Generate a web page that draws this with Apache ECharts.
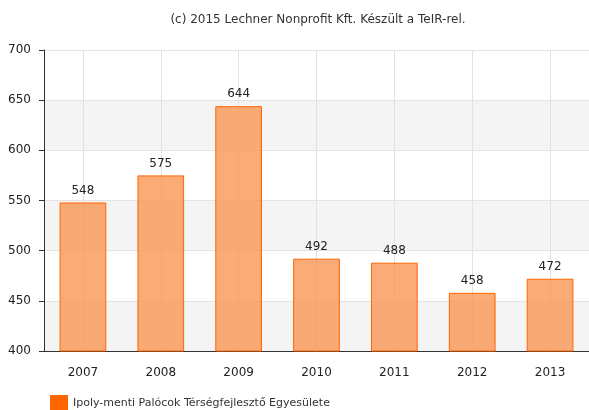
<!DOCTYPE html>
<html>
<head>
<meta charset="utf-8">
<script src="https://cdn.jsdelivr.net/npm/echarts@6/dist/echarts.min.js"></script>
<style>
  html, body { margin: 0; padding: 0; background: #fff; }
  #chart { width: 589px; height: 410px; }
</style>
</head>
<body>
<div id="chart"></div>
<script>
const years = ['2007', '2008', '2009', '2010', '2011', '2012', '2013']
const values = [548, 575, 644, 492, 488, 458, 472]
const seriesName = 'Ipoly-menti Palócok Térségfejlesztő Egyesülete'
const credit = '(c) 2015 Lechner Nonprofit Kft. Készült a TeIR-rel.'

const font = 'DejaVu Sans, Verdana, sans-serif'
const chart = echarts.init(document.getElementById('chart'))

chart.setOption({
  animation: false,
  textStyle: { fontFamily: font },
  title: {
    text: credit,
    left: 313,
    top: 9,
    textAlign: 'center',
    textStyle: { fontSize: 12, fontWeight: 'normal', color: '#333', fontFamily: font },
  },
  legend: {
    left: 50,
    top: 395,
    itemWidth: 18,
    itemHeight: 16,
    itemGap: 6,
    icon: 'rect',
    padding: 0,
    textStyle: { fontSize: 11, color: '#333', fontFamily: font },
    data: [{ name: seriesName, itemStyle: { color: '#ff6600', borderWidth: 0 } }],
  },
  grid: { left: 44, right: -2, top: 50, bottom: 59 },
  xAxis: {
    type: 'category',
    data: years,
    axisLine: { lineStyle: { color: '#333' } },
    axisTick: { alignWithLabel: true, length: 5, lineStyle: { color: '#333' } },
    axisLabel: { color: '#222', fontSize: 12, margin: 16 },
    splitLine: { show: true, alignWithLabel: true, lineStyle: { color: '#e2e2e2' } },
  },
  yAxis: {
    type: 'value',
    min: 400,
    max: 700,
    interval: 50,
    axisLine: { show: true, lineStyle: { color: '#333' } },
    axisTick: { show: true, length: 5, lineStyle: { color: '#333' } },
    axisLabel: { color: '#222', fontSize: 12, margin: 13 },
    splitLine: { lineStyle: { color: '#e4e4e4' } },
    splitArea: { show: true, areaStyle: { color: ['#f4f4f4', '#ffffff'] } },
  },
  series: [
    {
      name: seriesName,
      type: 'bar',
      data: values,
      barWidth: '60%',
      itemStyle: { color: 'rgba(249,150,84,0.8)', borderColor: '#ff6600', borderWidth: 1 },
      label: { show: true, position: 'top', distance: 6, color: '#222', fontSize: 12, fontFamily: font },
    },
  ],
})
</script>
</body>
</html>
